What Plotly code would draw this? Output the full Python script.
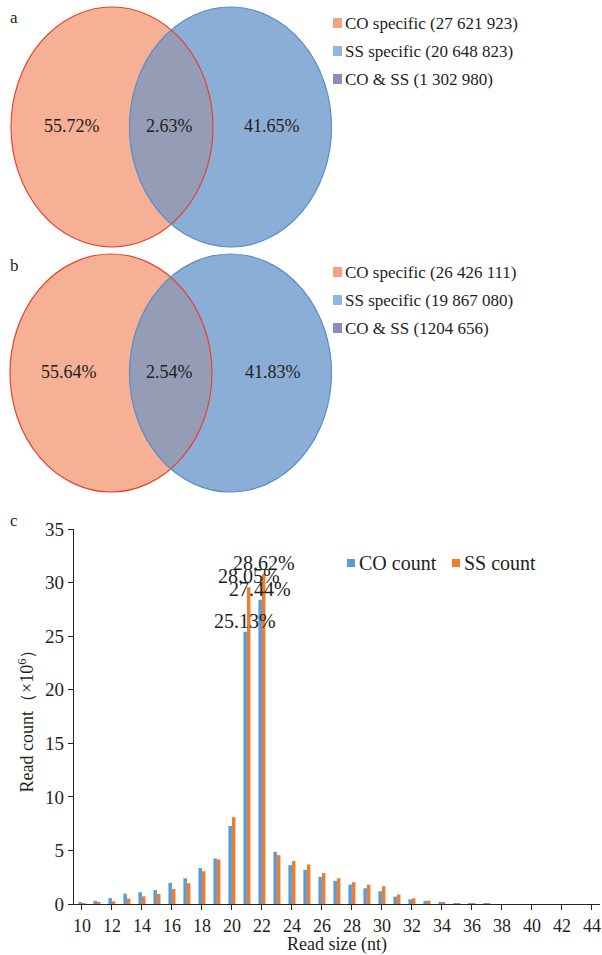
import numpy as np
import plotly.graph_objects as go

W, H = 602, 955
FONT = "Liberation Serif, Times New Roman, serif"
TXT = "#231f20"

# ---------------- data ----------------
venn_a_pct = ["55.72%", "2.63%", "41.65%"]
venn_a_legend = ["CO specific (27 621 923)", "SS specific (20 648 823)", "CO & SS (1 302 980)"]
venn_b_pct = ["55.64%", "2.54%", "41.83%"]
venn_b_legend = ["CO specific (26 426 111)", "SS specific (19 867 080)", "CO & SS (1204 656)"]

read_size = list(range(10, 45))
co_count = [0.10, 0.30, 0.55, 0.97, 1.10, 1.30, 1.97, 2.40, 3.35, 4.25, 7.28, 25.40, 28.40,
            4.87, 3.62, 3.19, 2.53, 2.16, 1.81, 1.47, 1.19, 0.69, 0.44, 0.28, 0.19,
            0.02, 0.01, 0.01, 0.0, 0.0, 0.0, 0.0, 0.0, 0.0, 0.0]
ss_count = [0.02, 0.10, 0.25, 0.50, 0.72, 0.95, 1.40, 1.94, 3.06, 4.15, 8.10, 29.56, 30.80,
            4.56, 4.00, 3.69, 2.88, 2.40, 2.03, 1.81, 1.66, 0.88, 0.53, 0.31, 0.19,
            0.02, 0.01, 0.01, 0.0, 0.0, 0.0, 0.0, 0.0, 0.0, 0.0]
series_names = ["CO count", "SS count"]
# percentage labels: (series, read size, text)
pct_labels = [("CO", 21, "25.13%"), ("SS", 21, "28.05%"), ("CO", 22, "27.44%"), ("SS", 22, "28.62%")]
x_ticks = list(range(10, 45, 2))
y_ticks = [0, 5, 10, 15, 20, 25, 30, 35]

# ---------------- styles ----------------
RED_FILL, RED_LINE = "#F6B096", "#E8432D"
BLUE_FILL, BLUE_LINE = "#8AAED6", "#5A8CC8"
LENS_FILL = "#959CB6"
LEG_COLORS = ["#F0A482", "#8FB7DF", "#8A8FBA"]
CO_COLOR, SS_COLOR = "#5B9BD5", "#ED7D31"


def px(x):
    return x / W


def py(y):
    return 1 - y / H


shapes = []
annotations = []


def ellipse_pts(cx, cy, rx, ry, n=720):
    t = np.linspace(0, 2 * np.pi, n, endpoint=False)
    return cx + rx * np.cos(t), cy + ry * np.sin(t)


def inside(x, y, cx, cy, rx, ry):
    return ((x - cx) / rx) ** 2 + ((y - cy) / ry) ** 2 <= 1.0


def venn(cy, red_cx, blue_cx, rx, ry, pcts, pct_pos, legend, leg_y, label, label_y):
    shapes.append(dict(type="circle", xref="paper", yref="paper",
                       x0=px(red_cx - rx), x1=px(red_cx + rx), y0=py(cy + ry), y1=py(cy - ry),
                       fillcolor=RED_FILL, line=dict(width=0), layer="above"))
    shapes.append(dict(type="circle", xref="paper", yref="paper",
                       x0=px(blue_cx - rx), x1=px(blue_cx + rx), y0=py(cy + ry), y1=py(cy - ry),
                       fillcolor=BLUE_FILL, line=dict(width=0), layer="above"))
    rxp, ryp = ellipse_pts(red_cx, cy, rx, ry)
    bxp, byp = ellipse_pts(blue_cx, cy, rx, ry)
    m1 = inside(rxp, ryp, blue_cx, cy, rx, ry)
    m2 = inside(bxp, byp, red_cx, cy, rx, ry)
    lx = np.concatenate([rxp[m1], bxp[m2]])
    ly = np.concatenate([ryp[m1], byp[m2]])
    mx, my = lx.mean(), ly.mean()
    order = np.argsort(np.arctan2(ly - my, lx - mx))
    lx, ly = lx[order], ly[order]
    path = "M " + " L ".join(f"{px(a):.5f},{py(b):.5f}" for a, b in zip(lx, ly)) + " Z"
    shapes.append(dict(type="path", xref="paper", yref="paper", path=path,
                       fillcolor=LENS_FILL, line=dict(width=0), layer="above"))
    shapes.append(dict(type="circle", xref="paper", yref="paper",
                       x0=px(red_cx - rx), x1=px(red_cx + rx), y0=py(cy + ry), y1=py(cy - ry),
                       fillcolor="rgba(0,0,0,0)", line=dict(width=1.2, color=RED_LINE), layer="above"))
    shapes.append(dict(type="circle", xref="paper", yref="paper",
                       x0=px(blue_cx - rx), x1=px(blue_cx + rx), y0=py(cy + ry), y1=py(cy - ry),
                       fillcolor="rgba(0,0,0,0)", line=dict(width=1.2, color=BLUE_LINE), layer="above"))
    for t, xx in zip(pcts, pct_pos):
        annotations.append(dict(text=t, x=px(xx), y=py(cy - 1), xref="paper", yref="paper",
                                showarrow=False, xanchor="center", yanchor="middle",
                                font=dict(family=FONT, size=18, color=TXT)))
    for i, (t, c) in enumerate(zip(legend, LEG_COLORS)):
        yy = leg_y + i * 28
        shapes.append(dict(type="rect", xref="paper", yref="paper",
                           x0=px(333), x1=px(342), y0=py(yy + 5), y1=py(yy - 5),
                           fillcolor=c, line=dict(width=0)))
        annotations.append(dict(text=t, x=px(343), y=py(yy), xref="paper", yref="paper",
                                showarrow=False, xanchor="left", yanchor="middle",
                                font=dict(family=FONT, size=17, color=TXT)))
    annotations.append(dict(text=label, x=px(8), y=py(label_y), xref="paper", yref="paper",
                            showarrow=False, xanchor="left", yanchor="middle",
                            font=dict(family=FONT, size=17, color=TXT)))


venn(127, 112, 230.5, 101, 120, venn_a_pct, [72, 169, 272], venn_a_legend, 23, "a", 18)
venn(373, 111, 230.5, 101, 119, venn_b_pct, [69, 169, 273], venn_b_legend, 272, "b", 265)
annotations.append(dict(text="c", x=px(8), y=py(520), xref="paper", yref="paper",
                        showarrow=False, xanchor="left", yanchor="middle",
                        font=dict(family=FONT, size=17, color=TXT)))

# ---------------- bar chart ----------------
fig = go.Figure()
fig.add_trace(go.Bar(x=read_size, y=co_count, name=series_names[0], showlegend=False,
                     marker=dict(color=CO_COLOR, line=dict(width=0))))
fig.add_trace(go.Bar(x=read_size, y=ss_count, name=series_names[1], showlegend=False,
                     marker=dict(color=SS_COLOR, line=dict(width=0))))

lookup = {"CO": dict(zip(read_size, co_count)), "SS": dict(zip(read_size, ss_count))}
for series, size, text in pct_labels:
    off = -0.118 if series == "CO" else 0.118
    annotations.append(dict(text=text, x=size + off, y=lookup[series][size], xref="x", yref="y",
                            showarrow=False, xanchor="center", yanchor="bottom", yshift=-2,
                            font=dict(family=FONT, size=20, color=TXT)))

# manual legend for the bar chart
for name, col, sx in zip(series_names, [CO_COLOR, SS_COLOR], [347, 452]):
    shapes.append(dict(type="rect", xref="paper", yref="paper",
                       x0=px(sx), x1=px(sx + 8), y0=py(567), y1=py(559),
                       fillcolor=col, line=dict(width=0)))
    annotations.append(dict(text=name, x=px(sx + 10), y=py(563), xref="paper", yref="paper",
                            showarrow=False, xanchor="left", yanchor="middle",
                            font=dict(family=FONT, size=20, color=TXT)))

xfont = dict(family=FONT, size=18, color=TXT)
yfont = dict(family=FONT, size=19, color=TXT)
fig.update_layout(
    width=W, height=H, margin=dict(l=0, r=0, t=0, b=0, pad=0, autoexpand=False),
    paper_bgcolor="white", plot_bgcolor="white",
    barmode="group", bargap=0.53, bargroupgap=0, showlegend=False,
    xaxis=dict(domain=[px(74), px(600)], range=[9.47, 44.54], tickmode="array", tickvals=x_ticks,
               ticks="outside", ticklen=5, tickcolor="#222", showline=True, linecolor="#222",
               linewidth=1.2, showgrid=False, zeroline=False, tickfont=xfont, automargin=False,
               title=dict(text="Read size (nt)", font=xfont, standoff=2)),
    yaxis=dict(domain=[py(904), py(529)], range=[0, 35], tickmode="array", tickvals=y_ticks,
               ticks="outside", ticklen=5, tickcolor="#222", showline=True, linecolor="#222",
               linewidth=1.2, showgrid=False, zeroline=False, tickfont=yfont, automargin=False,
               title=dict(text="Read count（×10<sup>6</sup>）", font=xfont, standoff=6)),
    shapes=shapes, annotations=annotations,
)

post = ("document.documentElement.style.margin='0';document.body.style.margin='0';"
        "document.body.style.padding='0';document.documentElement.style.overflow='hidden';"
        "document.body.style.overflow='hidden';"
        "var d=document.getElementById('{plot_id}');d.style.position='absolute';"
        "d.style.left='0px';d.style.top='0px';")
fig.write_html("out.html", config={"displayModeBar": False}, post_script=post)
